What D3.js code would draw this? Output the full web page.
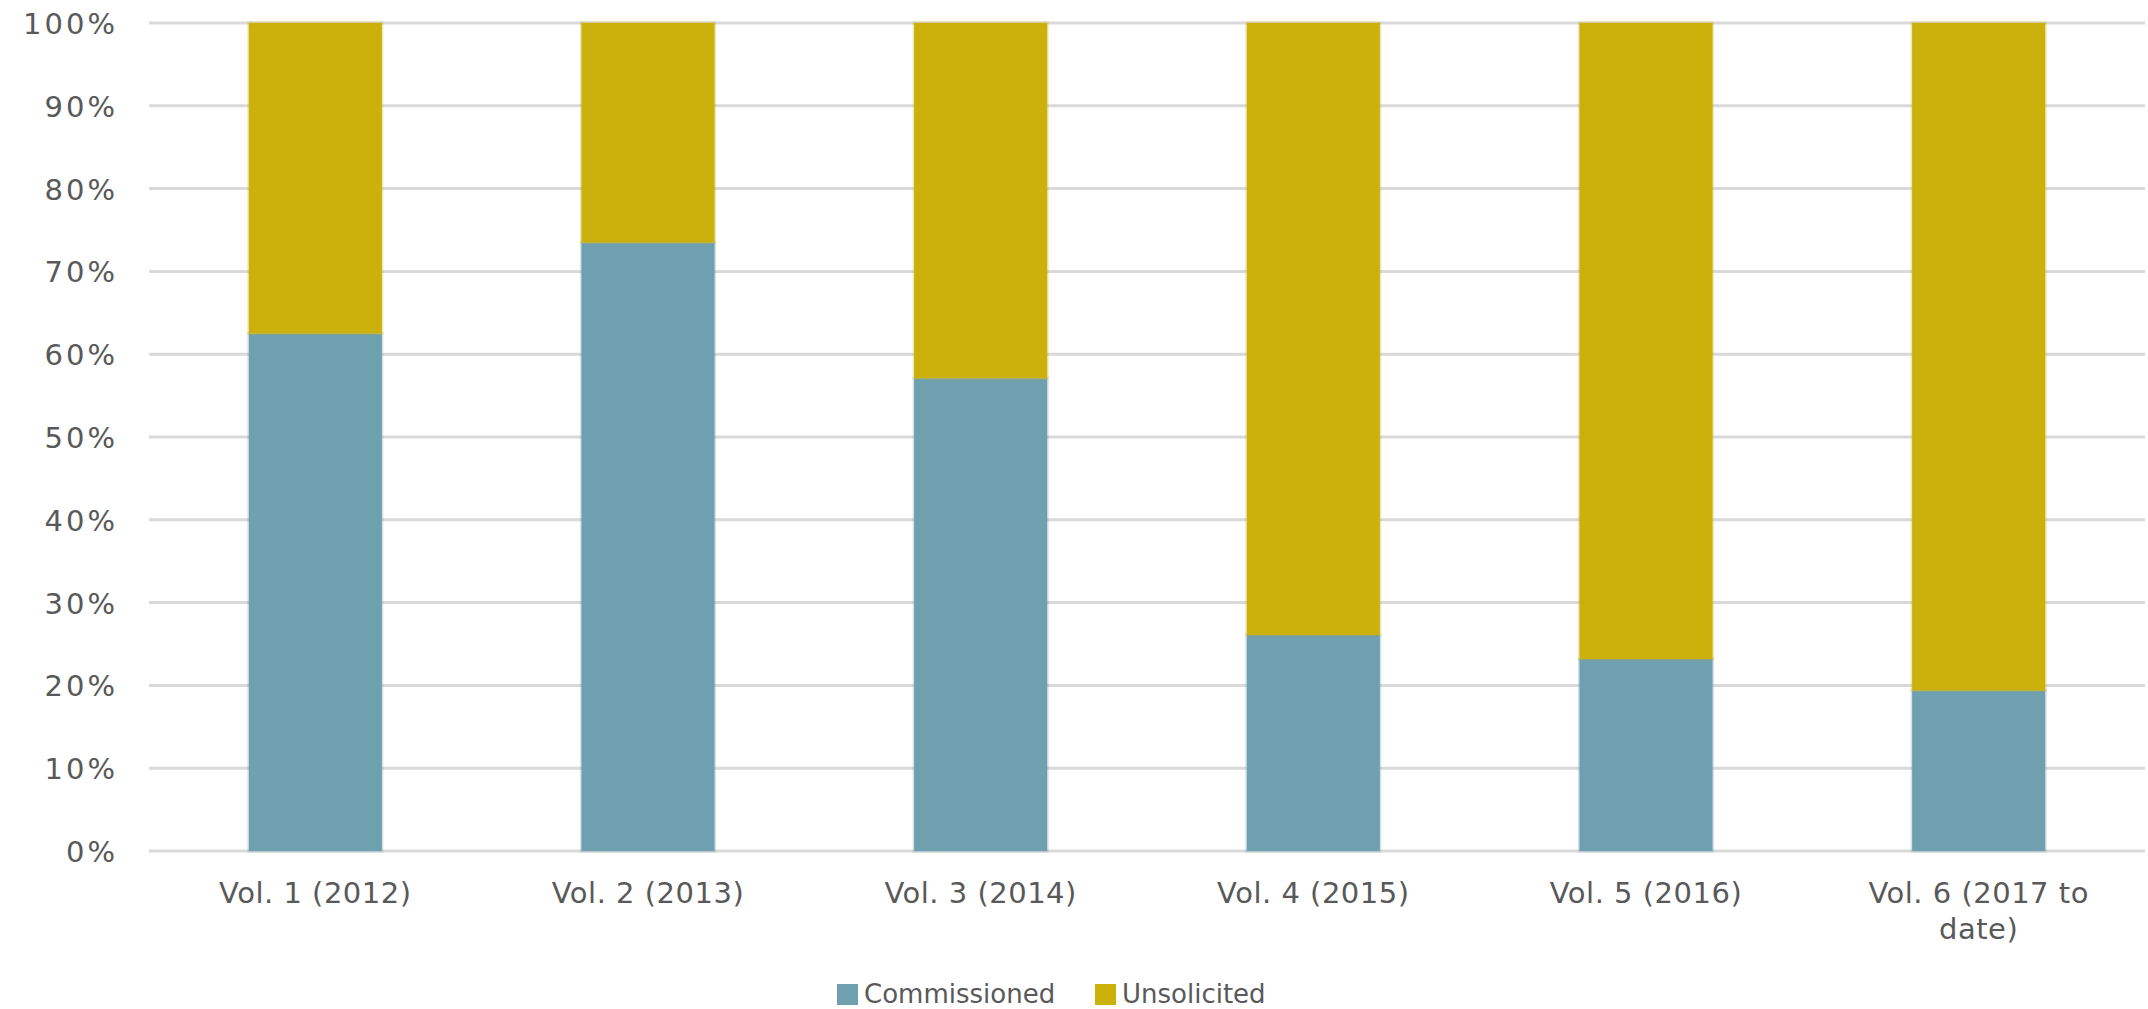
<!DOCTYPE html>
<html>
<head>
<meta charset="utf-8">
<script src="https://cdn.jsdelivr.net/npm/d3@7"></script>
<style>
  html, body { margin: 0; padding: 0; background: #ffffff; }
  svg { display: block; }
  text { font-family: "DejaVu Sans", sans-serif; fill: #595959; }
</style>
</head>
<body>
<svg id="chart" width="2148" height="1009"></svg>
<script>
const categories = ["Vol. 1 (2012)", "Vol. 2 (2013)", "Vol. 3 (2014)", "Vol. 4 (2015)", "Vol. 5 (2016)", "Vol. 6 (2017 to date)"];
const commissioned = [0.625, 0.735, 0.571, 0.261, 0.232, 0.194];
const unsolicited = [0.375, 0.265, 0.429, 0.739, 0.768, 0.806];
const seriesNames = ["Commissioned", "Unsolicited"];
const seriesColors = ["#6FA0B0", "#CCB00C"];
const yTicks = [0, 0.1, 0.2, 0.3, 0.4, 0.5, 0.6, 0.7, 0.8, 0.9, 1.0];

const svg = d3.select("#chart");
const margin = { left: 149, right: 3, top: 23, bottom: 158 };
const W = 2148, H = 1009;
const innerW = W - margin.left - margin.right;
const innerH = H - margin.top - margin.bottom;

const x = d3.scaleBand().domain(categories).range([margin.left, margin.left + innerW]).paddingInner(0.6).paddingOuter(0.3);
const y = d3.scaleLinear().domain([0, 1]).range([margin.top + innerH, margin.top]);

// gridlines
svg.append("g").selectAll("line").data(yTicks).join("line")
  .attr("x1", margin.left).attr("x2", margin.left + innerW)
  .attr("y1", d => y(d)).attr("y2", d => y(d))
  .attr("stroke", "#D9D9D9").attr("stroke-width", 3);

// y axis labels
const yAxis = d3.axisLeft(y).tickValues(yTicks).tickFormat(d3.format(".0%")).tickSize(0).tickPadding(0);
const yg = svg.append("g").attr("transform", `translate(118,0)`).call(yAxis);
yg.select(".domain").remove();
yg.selectAll("text").attr("font-size", 29).attr("font-family", "DejaVu Sans, sans-serif")
  .attr("fill", "#595959").attr("dy", "0.36em").attr("letter-spacing", 3);

// stacked data
const rows = categories.map((c, i) => ({ cat: c, Commissioned: commissioned[i], Unsolicited: unsolicited[i] }));
const stack = d3.stack().keys(seriesNames)(rows);

svg.append("g").selectAll("g").data(stack).join("g")
  .attr("fill", (d, i) => seriesColors[i])
  .each(function(s, si) {
    d3.select(this).selectAll("rect").data(s).join("rect")
      .attr("x", d => x(d.data.cat))
      .attr("width", x.bandwidth())
      .attr("y", d => y(Math.min(d[1], 1)))
      .attr("height", d => y(d[0]) - y(Math.min(d[1], 1)))
      .attr("stroke", seriesColors[si]).attr("stroke-opacity", 0.3).attr("stroke-width", 3);
  });

// x axis labels
const xLabelLines = categories.map(c => c === "Vol. 6 (2017 to date)" ? ["Vol. 6 (2017 to", "date)"] : [c]);
const xg = svg.append("g");
categories.forEach((c, i) => {
  const t = xg.append("text")
    .attr("x", x(c) + x.bandwidth() / 2)
    .attr("y", 903)
    .attr("text-anchor", "middle")
    .attr("font-size", 29)
    .attr("letter-spacing", 0.5);
  xLabelLines[i].forEach((line, li) => {
    t.append("tspan").attr("x", x(c) + x.bandwidth() / 2).attr("dy", li === 0 ? 0 : 36).text(line);
  });
});

// legend
const legendItems = [
  { name: seriesNames[0], color: seriesColors[0], x: 837 },
  { name: seriesNames[1], color: seriesColors[1], x: 1095 }
];
const lg = svg.append("g");
legendItems.forEach(it => {
  lg.append("rect").attr("x", it.x).attr("y", 984).attr("width", 21).attr("height", 21).attr("fill", it.color);
  lg.append("text").attr("x", it.x + 27).attr("y", 1003).attr("font-size", 26).text(it.name);
});
</script>
</body>
</html>
